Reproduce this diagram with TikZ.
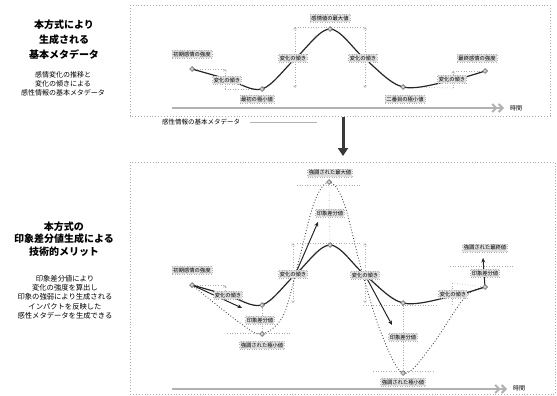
\documentclass[tikz,border=0pt]{standalone}
\usepackage{fontspec}
\newfontfamily\jp{Noto Sans CJK JP}
\usetikzlibrary{arrows.meta,shapes.geometric}
\begin{document}
\begin{tikzpicture}[x=1pt,y=-1pt,
  lbl/.style={draw=gray!60,dotted,fill=gray!25,font=\jp\fontsize{5.3}{6}\selectfont,inner sep=1.2pt,minimum height=8pt},
  guide/.style={gray!65,dotted,line width=0.6pt},
  dimarrow/.style={guide,{Straight Barb[length=2pt,width=3pt]}-{Straight Barb[length=2pt,width=3pt]}},
  panel/.style={gray!65,dotted,line width=0.9pt},
  curve/.style={black!85,line width=1.2pt},
  amp/.style={black!70,dotted,line width=0.9pt},
  mk/.style={diamond,draw=black!70,fill=gray!35,inner sep=0pt,minimum size=5pt,line width=0.5pt},
  axis/.style={gray!60,line width=2pt,-{Straight Barb[length=4pt,width=8pt]Straight Barb[length=4pt,width=8pt]}},
  push/.style={black!85,line width=1pt,-{Stealth[length=4.5pt,width=4pt]}},
  title/.style={font=\jp\bfseries\fontsize{10}{15}\selectfont,align=center},
  note/.style={font=\jp\fontsize{7}{9.3}\selectfont,align=center},
  axlbl/.style={font=\jp\fontsize{6}{7}\selectfont}
]
\useasboundingbox (0,0) rectangle (557,396);

% ---------- left texts ----------
\node[title] (tt1) at (64,40) {本方式により\\生成される\\基本メタデータ};
\node[note] (tt2) at (63,84) {感情変化の推移と\\変化の傾きによる\\感性情報の基本メタデータ};
\node[title,font=\jp\bfseries\fontsize{10}{12.5}\selectfont] (bt1) at (64,239) {本方式の\\印象差分値生成による\\技術的メリット};
\node[note,font=\jp\fontsize{7.3}{9.3}\selectfont] (bt2) at (65,297) {印象差分値により\\変化の強度を算出し\\印象の強弱により生成される\\インパクトを反映した\\感性メタデータを生成できる};

% ---------- top panel ----------
\draw[panel] (130,5) rectangle (550,116);
\coordinate (tA0) at (172,108);
\coordinate (tA1) at (504,108);
\draw[axis] (tA0) -- (tA1);
\node[axlbl] (tAx) at (516,108) {時間};

\coordinate (tS) at (192,69);
\coordinate (tL) at (227,79);
\coordinate (tM1) at (262,89);
\coordinate (tI1) at (295,59);
\coordinate (tP) at (330,29);
\coordinate (tI2) at (365,59);
\coordinate (tM2) at (403,87);
\coordinate (tR) at (453,80);
\coordinate (tE) at (485,71);

% guides top
\coordinate (tg1) at (225,69);
\coordinate (tg2) at (225,89);
\draw[guide] (tS) -- (tg1);
\draw[guide,-{Straight Barb[length=2pt,width=3pt]}] (tg2) -- (tg1);
\draw[guide] (tg2) -- (tM1);
\coordinate (tg3) at (295,27);
\coordinate (tg4) at (295,88);
\coordinate (tg5) at (365,27);
\coordinate (tg6) at (365,88);
\draw[dimarrow] (tg3) -- (tg4);
\draw[dimarrow] (tg5) -- (tg6);
\draw[guide] (tg3) -- (tg5);
\coordinate (tg7) at (453,71);
\coordinate (tg8) at (453,88);
\draw[guide] (tE) -- (tg7);
\draw[guide,-{Straight Barb[length=2pt,width=3pt]}] (tg8) -- (tg7);
\draw[guide] (tM2) -- (tg8);

\draw[curve] plot[smooth,tension=0.55] coordinates {(tS) (tL) (tM1) (tI1) (tP) (tI2) (tM2) (tR) (tE)};

\foreach \p in {tS,tM1,tP,tM2,tE} \node[mk] at (\p) {};

\node[lbl] (tlS) at (192,54) {初期感情の強度};
\node[lbl] (tlL) at (227,80) {変化の傾き};
\node[lbl] (tlM1) at (257,99) {最初の極小値};
\node[lbl] (tlI1) at (293,58) {変化の傾き};
\node[lbl] (tlP) at (330,18) {感情値の最大値};
\node[lbl] (tlI2) at (363,58) {変化の傾き};
\node[lbl] (tlM2) at (405,99) {二番目の極小値};
\node[lbl] (tlR) at (452,79) {変化の傾き};
\node[lbl] (tlE) at (477,58) {最終感情の強度};

\node[font=\jp\fontsize{6.5}{7}\selectfont,anchor=west,inner sep=1pt] (cap) at (161,122) {感性情報の基本メタデータ};
\coordinate (cl0) at (250,122);
\coordinate (cl1) at (317,122);
\draw[gray!60,line width=0.9pt] (cl0) -- (cl1);

% ---------- down arrow ----------
\coordinate (dA0) at (343,117);
\coordinate (dA1) at (343,156);
\draw[gray!45!black,line width=3pt,-{Triangle[length=8pt,width=10pt]}] (dA0) -- (dA1);

% ---------- bottom panel ----------
\draw[panel] (130,162) rectangle (555,394);
\coordinate (bA0) at (172,389);
\coordinate (bA1) at (507,389);
\draw[axis] (bA0) -- (bA1);
\node[axlbl] (bAx) at (519,388) {時間};

\coordinate (bS) at (192,285);
\coordinate (bL) at (227,295);
\coordinate (bM1) at (262,305);
\coordinate (bI1) at (295,275);
\coordinate (bP) at (330,245);
\coordinate (bI2) at (365,275);
\coordinate (bM2) at (403,303);
\coordinate (bR) at (453,296);
\coordinate (bE) at (485,287);

\coordinate (aM1) at (262,334);
\coordinate (aP) at (329,182);
\coordinate (aM2) at (403,373);

% guides bottom
\coordinate (bg1) at (225,285);
\coordinate (bg2) at (225,293);
\draw[guide] (bS) -- (bg1);
\draw[guide,-{Straight Barb[length=2pt,width=3pt]}] (bg2) -- (bg1);
\coordinate (bg3) at (297,185);
\coordinate (bg4) at (360,185);
\draw[guide] (bg3) -- (bg4);
\coordinate (bg5) at (297,243);
\coordinate (bg6) at (360,243);
\draw[guide] (bg5) -- (bg6);
\coordinate (bg7) at (293,243);
\coordinate (bg8) at (293,303);
\draw[dimarrow] (bg7) -- (bg8);
\coordinate (bg9) at (365,243);
\coordinate (bg10) at (365,303);
\draw[dimarrow] (bg9) -- (bg10);
\draw[guide] (aP) -- (bP);
\draw[guide] (bM1) -- (aM1);
\coordinate (bg11) at (227,333);
\coordinate (bg12) at (292,333);
\draw[guide] (bg11) -- (bg12);
\draw[guide] (bM2) -- (aM2);
\coordinate (bg13) at (363,305);
\coordinate (bg14) at (437,305);
\draw[guide] (bg13) -- (bg14);
\coordinate (bg15) at (373,371);
\coordinate (bg16) at (433,371);
\draw[guide] (bg15) -- (bg16);
\coordinate (bg17) at (450,266);
\coordinate (bg18) at (513,266);
\draw[guide] (bg17) -- (bg18);
\coordinate (bg19) at (452,283);
\coordinate (bg20) at (452,305);
\draw[guide] (bg19) -- (bE);
\draw[guide] (bg19) -- (bg20);

% amplified curve
\draw[amp] plot[smooth,tension=0.55] coordinates {(bS) (240,323) (aM1) (283,316) (297,268) (314,203) (aP) (344,203) (361,268) (380,330) (aM2) (430,348) (465,297) (bE)};
% base curve
\draw[curve] plot[smooth,tension=0.55] coordinates {(bS) (bL) (bM1) (bI1) (bP) (bI2) (bM2) (bR) (bE)};

% push arrows
\coordinate (pT1) at (242,308);
\coordinate (pT2) at (318,222);
\coordinate (pT3) at (392,325);
\coordinate (pT4) at (483,258);
\draw[push] (bS) -- (pT1);
\draw[push] (bI1) -- (pT2);
\draw[push] (bI2) -- (pT3);
\draw[push] (bE) -- (pT4);

\foreach \p in {bS,bM1,bP,bM2,bE,aM1,aP,aM2} \node[mk] at (\p) {};

\node[lbl] (blS) at (192,270) {初期感情の強度};
\node[lbl] (blL) at (228,295) {変化の傾き};
\node[lbl] (blD1) at (260,320) {印象差分値};
\node[lbl] (blM1) at (262,345) {強調された極小値};
\node[lbl] (blI1) at (293,274) {変化の傾き};
\node[lbl] (blD2) at (330,213) {印象差分値};
\node[lbl] (blP) at (330,173) {強調された最大値};
\node[lbl] (blI2) at (365,275) {変化の傾き};
\node[lbl] (blD3) at (403,337) {印象差分値};
\node[lbl] (blM2) at (403,382) {強調された極小値};
\node[lbl] (blR) at (453,294) {変化の傾き};
\node[lbl] (blD4) at (485,273) {印象差分値};
\node[lbl] (blE) at (485,248) {強調された最終値};
\end{tikzpicture}
\end{document}
